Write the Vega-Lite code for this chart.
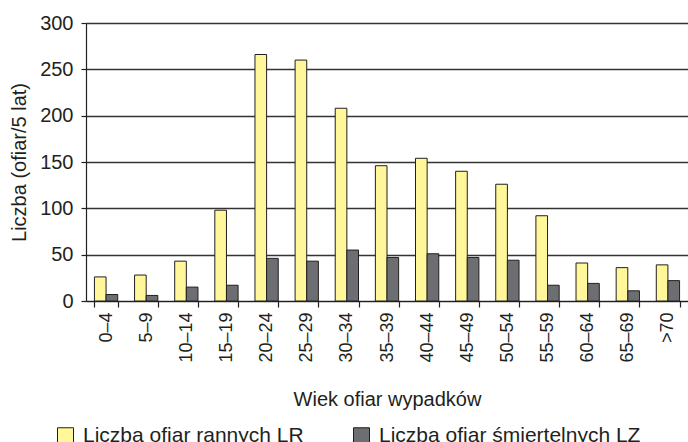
{
  "$schema": "https://vega.github.io/schema/vega-lite/v6.json",
  "width": 602,
  "height": 278,
  "autosize": {"type": "none"},
  "padding": {"left": 86, "top": 23, "right": 0, "bottom": 141},
  "background": "white",
  "config": {
    "font": "Liberation Sans",
    "view": {"stroke": null},
    "axis": {
      "labelColor": "#231f20",
      "titleColor": "#231f20",
      "titleFontWeight": "normal",
      "domainColor": "#231f20",
      "tickColor": "#231f20",
      "domainWidth": 1.2,
      "tickWidth": 1.2
    },
    "legend": {"labelColor": "#231f20"}
  },
  "data": {
    "values": [
      {"wiek": "0–4", "seria": "Liczba ofiar rannych LR", "liczba": 26},
      {"wiek": "0–4", "seria": "Liczba ofiar śmiertelnych LZ", "liczba": 7},
      {"wiek": "5–9", "seria": "Liczba ofiar rannych LR", "liczba": 28},
      {"wiek": "5–9", "seria": "Liczba ofiar śmiertelnych LZ", "liczba": 6},
      {"wiek": "10–14", "seria": "Liczba ofiar rannych LR", "liczba": 43},
      {"wiek": "10–14", "seria": "Liczba ofiar śmiertelnych LZ", "liczba": 15},
      {"wiek": "15–19", "seria": "Liczba ofiar rannych LR", "liczba": 98},
      {"wiek": "15–19", "seria": "Liczba ofiar śmiertelnych LZ", "liczba": 17},
      {"wiek": "20–24", "seria": "Liczba ofiar rannych LR", "liczba": 266},
      {"wiek": "20–24", "seria": "Liczba ofiar śmiertelnych LZ", "liczba": 46},
      {"wiek": "25–29", "seria": "Liczba ofiar rannych LR", "liczba": 260},
      {"wiek": "25–29", "seria": "Liczba ofiar śmiertelnych LZ", "liczba": 43},
      {"wiek": "30–34", "seria": "Liczba ofiar rannych LR", "liczba": 208},
      {"wiek": "30–34", "seria": "Liczba ofiar śmiertelnych LZ", "liczba": 55},
      {"wiek": "35–39", "seria": "Liczba ofiar rannych LR", "liczba": 146},
      {"wiek": "35–39", "seria": "Liczba ofiar śmiertelnych LZ", "liczba": 47},
      {"wiek": "40–44", "seria": "Liczba ofiar rannych LR", "liczba": 154},
      {"wiek": "40–44", "seria": "Liczba ofiar śmiertelnych LZ", "liczba": 51},
      {"wiek": "45–49", "seria": "Liczba ofiar rannych LR", "liczba": 140},
      {"wiek": "45–49", "seria": "Liczba ofiar śmiertelnych LZ", "liczba": 47},
      {"wiek": "50–54", "seria": "Liczba ofiar rannych LR", "liczba": 126},
      {"wiek": "50–54", "seria": "Liczba ofiar śmiertelnych LZ", "liczba": 44},
      {"wiek": "55–59", "seria": "Liczba ofiar rannych LR", "liczba": 92},
      {"wiek": "55–59", "seria": "Liczba ofiar śmiertelnych LZ", "liczba": 17},
      {"wiek": "60–64", "seria": "Liczba ofiar rannych LR", "liczba": 41},
      {"wiek": "60–64", "seria": "Liczba ofiar śmiertelnych LZ", "liczba": 19},
      {"wiek": "65–69", "seria": "Liczba ofiar rannych LR", "liczba": 36},
      {"wiek": "65–69", "seria": "Liczba ofiar śmiertelnych LZ", "liczba": 11},
      {"wiek": ">70", "seria": "Liczba ofiar rannych LR", "liczba": 39},
      {"wiek": ">70", "seria": "Liczba ofiar śmiertelnych LZ", "liczba": 22}
    ]
  },
  "mark": {"type": "bar", "stroke": "#231f20", "strokeWidth": 1},
  "encoding": {
    "x": {
      "field": "wiek",
      "type": "nominal",
      "sort": null,
      "scale": {"paddingInner": 0.42, "paddingOuter": 0.21},
      "axis": {
        "title": "Wiek ofiar wypadków",
        "labelAngle": -90,
        "labelAlign": "right",
        "labelBaseline": "middle",
        "labelFontSize": 18,
        "labelPadding": 5,
        "tickBand": "extent",
        "tickSize": 6,
        "titleFontSize": 20,
        "titlePadding": 27,
        "grid": false
      }
    },
    "xOffset": {
      "field": "seria",
      "type": "nominal",
      "scale": {"domain": ["Liczba ofiar rannych LR", "Liczba ofiar śmiertelnych LZ"], "paddingInner": 0}
    },
    "y": {
      "field": "liczba",
      "type": "quantitative",
      "scale": {"domain": [0, 300], "nice": false},
      "axis": {
        "title": "Liczba (ofiar/5 lat)",
        "values": [0, 50, 100, 150, 200, 250, 300],
        "labelFontSize": 20,
        "labelPadding": 8,
        "tickSize": 5,
        "titleFontSize": 20,
        "titlePadding": 10,
        "gridColor": "#333333",
        "gridWidth": 1.3
      }
    },
    "color": {
      "field": "seria",
      "type": "nominal",
      "scale": {
        "domain": ["Liczba ofiar rannych LR", "Liczba ofiar śmiertelnych LZ"],
        "range": ["#FFF799", "#6D6E71"]
      },
      "legend": {
        "orient": "none",
        "legendX": -31,
        "legendY": 402,
        "direction": "horizontal",
        "title": null,
        "symbolType": "square",
        "symbolSize": 256,
        "symbolStrokeColor": "#231f20",
        "symbolStrokeWidth": 1,
        "labelFontSize": 21,
        "labelLimit": 400,
        "labelOffset": 7,
        "columnPadding": 47,
        "padding": 0
      }
    }
  }
}
